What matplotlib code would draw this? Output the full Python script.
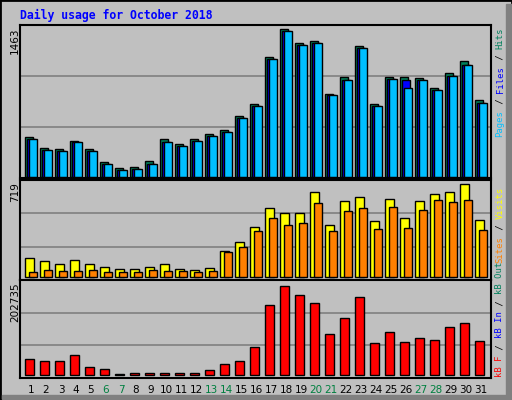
import matplotlib
matplotlib.use("Agg")
import matplotlib.pyplot as plt
from matplotlib.patches import Rectangle

days = list(range(1, 32))
hits = [385,276,266,346,266,141,84,93,151,363,315,363,411,449,584,700,1152,1422,1287,1306,796,960,1258,700,960,960,950,854,998,1114,738]
files = [363,257,247,334,247,122,64,74,122,334,295,344,392,430,565,680,1133,1402,1268,1287,786,931,1239,680,940,931,931,834,969,1075,709]
pages = [363,257,247,334,247,122,64,74,122,334,295,344,392,430,565,680,1133,1402,1268,1287,786,931,1239,680,940,854,931,834,969,1075,709]
visits = [139,116,94,124,94,72,57,57,72,94,57,50,64,190,257,368,509,472,472,628,383,561,591,413,576,435,561,613,628,687,420]
sites = [35,50,42,42,50,35,35,35,50,42,42,35,42,183,220,339,435,383,398,546,339,487,509,353,516,361,494,568,553,568,346]
kbytes = [35500,31400,31400,43900,18800,12500,2100,4200,4200,4200,4200,4200,10400,25100,31400,60600,150500,190200,171400,154700,87800,121200,167200,69000,92000,71100,79400,75200,102400,110800,73200]
weekends = [6, 7, 13, 14, 20, 21, 27, 28]
max_top, max_mid, max_bot = 1463, 719, 202735

W, H = 512, 400
fig = plt.figure(figsize=(5.12, 4.0), dpi=100, facecolor="#c0c0c0")

def px_axes(x0, y0, x1, y1):
    return fig.add_axes([x0 / W, 1 - y1 / H, (x1 - x0) / W, (y1 - y0) / H])

px = 1 / 15.0
xl = (0.267, 31.67)

def style(ax, ymin, ymax):
    ax.set_facecolor("#c0c0c0")
    ax.set_xlim(*xl)
    ax.set_ylim(ymin, ymax)
    ax.set_xticks([]); ax.set_yticks([])
    for s in ax.spines.values():
        s.set_color("black"); s.set_linewidth(1.5)
    for f in (1/3, 2/3):
        ax.axhline(ymin + (ymax - ymin) * f, color="#808080", lw=1.2, zorder=0)

ax1 = px_axes(20, 25, 491, 178)
style(ax1, -10, max_top)
ax1.bar([d - 6*px for d in days], hits, width=8*px, align="edge", color="#00805c", edgecolor="black", lw=1)
ax1.bar([d - 4*px for d in days], files, width=8*px, align="edge", color="#0000ff", edgecolor="black", lw=1)
ax1.bar([d - 2*px for d in days], pages, width=7.7*px, align="edge", color="#00bfff", edgecolor="black", lw=1)

ax2 = px_axes(20, 180, 491, 280)
style(ax2, -22, max_mid)
ax2.bar([d - 6*px for d in days], visits, width=8.6*px, align="edge", color="#ffff00", edgecolor="black", lw=1)
ax2.bar([d - 2*px for d in days], sites, width=7.7*px, align="edge", color="#ff8000", edgecolor="black", lw=1)

ax3 = px_axes(20, 280, 491, 378)
style(ax3, -5600, max_bot)
ax3.bar([d - 5.6*px for d in days], kbytes, width=8.3*px, align="edge", color="#ff0000", edgecolor="black", lw=1)
for d in days:
    ax3.text(d, -0.12, str(d), transform=ax3.get_xaxis_transform(), ha="center", va="center",
             fontsize=7.5, color="#008040" if d in weekends else "black")

fig.text(20 / W, 1 - 15 / H, "Daily usage for October 2018", color="#0000ff", fontsize=8.3,
         family="DejaVu Sans Mono", weight="bold", va="center", ha="left")

for txt, ytop in ((str(max_top), 27), (str(max_mid), 182), (str(max_bot), 282)):
    fig.text(15 / W, 1 - ytop / H, txt, rotation=90, ha="center", va="top", fontsize=7.5)

fs = 6.4
cw = 0.602 * fs * 100 / 72 + 0.15
def vlabel(pieces, ybottom):
    y = ybottom
    for t, c in pieces:
        fig.text(500 / W, 1 - y / H, t, rotation=90, ha="center", va="bottom", color=c,
                 fontsize=fs, family="DejaVu Sans Mono")
        y -= cw * len(t)

vlabel([("Pages", "#00bfff"), (" / ", "#000000"), ("Files", "#0000ff"), (" / ", "#000000"), ("Hits", "#00805c")], 137)
vlabel([("Sites", "#ff8000"), (" / ", "#000000"), ("Visits", "#ffff00")], 263)
vlabel([("kB F", "#ff0000"), (" / ", "#000000"), ("kB In", "#0000ff"), (" / ", "#000000"), ("kB Out", "#00805c")], 377)

fig.patches.append(Rectangle((0, 0), 1, 1, transform=fig.transFigure, fill=False, edgecolor="black", lw=2))
fig.patches.append(Rectangle((1 - 6 / W, 0), 6 / W, 1 - 4 / H, transform=fig.transFigure, color="#808080"))
fig.patches.append(Rectangle((2 / W, 1 / H), 1 - 8 / W, 4 / H, transform=fig.transFigure, color="#808080"))

fig.savefig("out.png", dpi=100, facecolor="#c0c0c0")
